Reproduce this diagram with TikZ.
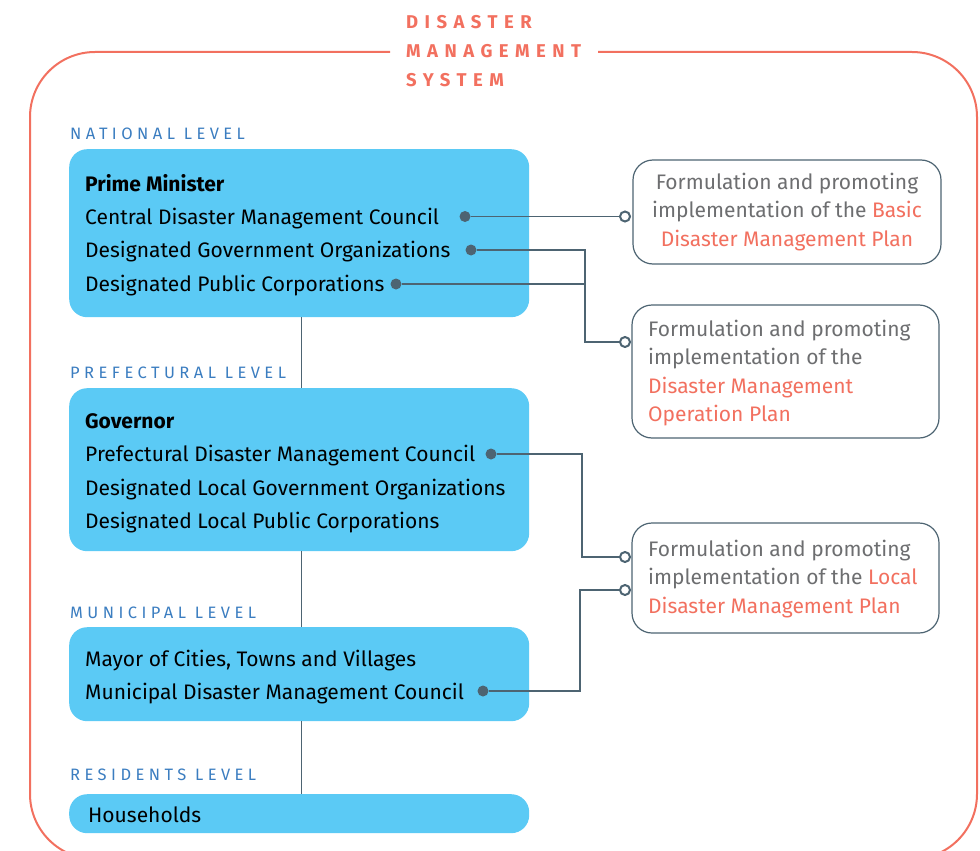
\documentclass[tikz,border=0pt]{standalone}
\usepackage{fontspec}
\setmainfont{Fira Sans}
\newfontfamily\lvlfont[LetterSpace=27]{Fira Sans}
\newfontfamily\ttlfont[LetterSpace=35]{Fira Sans}
\definecolor{salmon}{HTML}{F2705F}
\definecolor{boxblue}{HTML}{5BCAF5}
\definecolor{lvlblue}{HTML}{3B7DC0}
\definecolor{connc}{HTML}{4D6472}
\definecolor{txtgray}{HTML}{6D6E70}
\tikzset{
  bluebox/.style={fill=boxblue, rounded corners=18pt, anchor=north west, inner sep=0pt},
  planbox/.style={draw=connc, line width=1.2pt, fill=white, rounded corners=20pt, inner sep=0pt},
  row/.style={anchor=base west, inner sep=0pt, font=\fontsize{21}{24}\selectfont},
  lvl/.style={anchor=base west, inner sep=0pt, text=lvlblue, font=\lvlfont\fontsize{16.5}{18}\selectfont},
  ttl/.style={anchor=base west, inner sep=0pt, text=salmon, font=\ttlfont\bfseries\fontsize{18.5}{20}\selectfont},
  plantext/.style={inner sep=0pt, text=txtgray, font=\fontsize{21}{28.3}\selectfont},
  dotc/.style={circle, fill=connc, inner sep=0pt, minimum size=11pt},
  odot/.style={circle, draw=connc, line width=2pt, fill=white, inner sep=0pt, minimum size=10pt},
  wire/.style={draw=connc, line width=1.3pt},
  vline/.style={draw=connc, line width=1pt},
}
\begin{document}
\begin{tikzpicture}[x=1pt,y=-1pt]
\useasboundingbox (0,0) rectangle (980,851);
\clip (0,0) rectangle (980,851);
% outer frame
\draw[salmon, line width=2pt, rounded corners=65pt] (390,52) -- (30,52) -- (30,859) -- (977,859) -- (977,52) -- (598,52);
\node[ttl] (title1) at (406,29) {DISASTER};
\node[ttl] (title2) at (406,57.5) {MANAGEMENT};
\node[ttl] (title3) at (406,86) {SYSTEM};
% level labels
\node[lvl] (l1) at (70,139) {NATIONAL LEVEL};
\node[lvl] (l2) at (70,378) {PREFECTURAL LEVEL};
\node[lvl] (l3) at (70,618) {MUNICIPAL LEVEL};
\node[lvl] (l4) at (70,780) {RESIDENTS LEVEL};
% blue boxes
\node[bluebox, minimum width=460pt, minimum height=168pt] (b1) at (69,149) {};
\node[bluebox, minimum width=460pt, minimum height=163pt] (b2) at (69,388) {};
\node[bluebox, minimum width=460pt, minimum height=94pt] (b3) at (69,627) {};
\node[bluebox, minimum width=460pt, minimum height=39pt] (b4) at (69,794) {};
\coordinate (vx) at (301,0);
\draw[vline] (b1.south -| vx) -- (b2.north -| vx);
\draw[vline] (b2.south -| vx) -- (b3.north -| vx);
\draw[vline] (b3.south -| vx) -- (b4.north -| vx);
% rows
\node[row, font=\bfseries\fontsize{21}{24}\selectfont] (t11) at (85,191) {Prime Minister};
\node[row] (t12) at (85,224) {Central Disaster Management Council};
\node[row] (t13) at (85,257) {Designated Government Organizations};
\node[row] (t14) at (85,291) {Designated Public Corporations};
\node[row, font=\bfseries\fontsize{21}{24}\selectfont] (t21) at (85,428) {Governor};
\node[row] (t22) at (85,461) {Prefectural Disaster Management Council};
\node[row] (t23) at (85,495) {Designated Local Government Organizations};
\node[row] (t24) at (85,528) {Designated Local Public Corporations};
\node[row] (t31) at (85,666) {Mayor of Cities, Towns and Villages};
\node[row] (t32) at (85,699) {Municipal Disaster Management Council};
\node[row] (t41) at (88,822) {Households};
% plan boxes
\node[planbox, minimum width=308pt, minimum height=104pt] (p1) at (787,212) {};
\node[planbox, minimum width=307pt, minimum height=133pt] (p2) at (785.5,371.5) {};
\node[planbox, minimum width=307pt, minimum height=110pt] (p3) at (785.5,578) {};
\node[plantext, align=center] (pt1) at (p1.center) {Formulation and promoting\\implementation of the \textcolor{salmon}{Basic}\\\textcolor{salmon}{Disaster Management Plan}};
\node[plantext, align=left, anchor=west] (pt2) at (648,373) {Formulation and promoting\\implementation of the\\\textcolor{salmon}{Disaster Management}\\\textcolor{salmon}{Operation Plan}};
\node[plantext, align=left, anchor=west] (pt3) at (648,579) {Formulation and promoting\\implementation of the \textcolor{salmon}{Local}\\\textcolor{salmon}{Disaster Management Plan}};
% dots
\node[dotc] (d1) at (465,216.5) {};
\node[dotc] (d2) at (471,250) {};
\node[dotc] (d3) at (396,284) {};
\node[dotc] (d4) at (491,454) {};
\node[dotc] (d5) at (483,691) {};
\node[odot] (o1) at (625,216.5) {};
\node[odot] (o2) at (625,342) {};
\node[odot] (o3) at (625,557) {};
\node[odot] (o4) at (625,590) {};
\coordinate (j1) at (585,300);
\coordinate (j2) at (582,500);
\coordinate (j3) at (580,640);
% connectors
\draw[wire] (d1) -- (o1);
\draw[wire] (d2) -- (d2 -| j1) |- (o2);
\draw[wire] (d3) -- (d3 -| j1);
\draw[wire] (d4) -- (d4 -| j2) |- (o3);
\draw[wire] (d5) -- (d5 -| j3) |- (o4);
\end{tikzpicture}
\end{document}
